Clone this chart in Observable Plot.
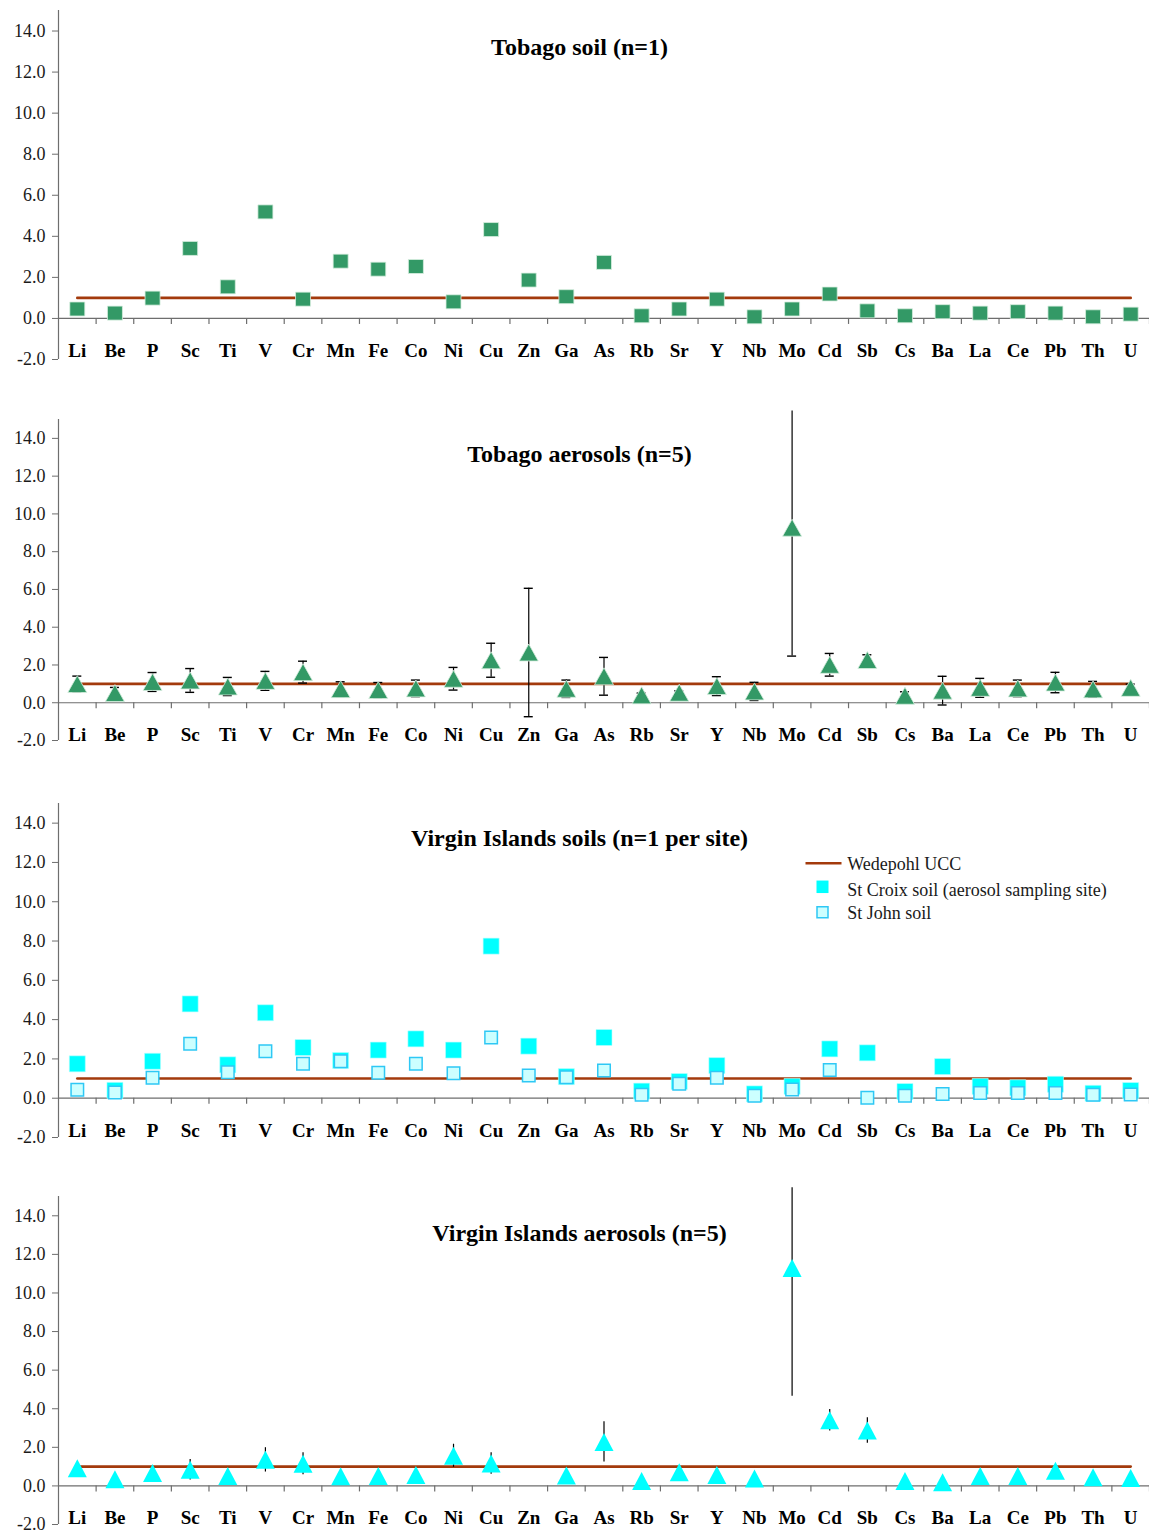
<!DOCTYPE html>
<html><head><meta charset="utf-8">
<script src="https://cdn.jsdelivr.net/npm/d3@7"></script>
<script src="https://cdn.jsdelivr.net/npm/@observablehq/plot@0.6"></script>
<style>
html,body{margin:0;padding:0;background:#fff;overflow:hidden;}
#wrap{position:relative;width:1149px;height:1531px;}
.panel{position:absolute;left:0;}
</style></head><body><div id="wrap"></div>
<script>
// ---------- data ----------
const elements = ["Li","Be","P","Sc","Ti","V","Cr","Mn","Fe","Co","Ni","Cu","Zn","Ga","As","Rb","Sr","Y","Nb","Mo","Cd","Sb","Cs","Ba","La","Ce","Pb","Th","U"];
const yTicks = [-2, 0, 2, 4, 6, 8, 10, 12, 14];
const uccLevel = 1; // Wedepohl UCC normalised value
const titles = ["Tobago soil (n=1)", "Tobago aerosols (n=5)", "Virgin Islands soils (n=1 per site)", "Virgin Islands aerosols (n=5)"];
const legendLabels = ["Wedepohl UCC", "St Croix soil (aerosol sampling site)", "St John soil"];

const tobagoSoil = [0.46,0.26,0.99,3.41,1.54,5.19,0.94,2.79,2.40,2.53,0.81,4.33,1.87,1.06,2.73,0.13,0.46,0.94,0.08,0.46,1.19,0.37,0.13,0.33,0.26,0.33,0.26,0.08,0.21];

const tobagoAerosolMean = [0.99,0.51,1.10,1.18,0.86,1.16,1.62,0.72,0.67,0.76,1.27,2.25,2.66,0.74,1.40,0.39,0.53,0.88,0.60,9.27,2.01,2.26,0.37,0.64,0.79,0.76,1.07,0.71,0.79];
const tobagoAerosolErr  = [0.42,0.30,0.50,0.63,0.48,0.50,0.58,0.39,0.40,0.44,0.60,0.90,3.40,0.46,1.00,0.12,0.10,0.50,0.48,6.80,0.60,0.28,0.21,0.76,0.50,0.44,0.54,0.42,0.20];

const stCroixSoil = [1.75,0.40,1.88,4.80,1.70,4.35,2.58,1.92,2.45,3.02,2.45,7.74,2.65,1.10,3.09,0.36,0.85,1.66,0.22,0.60,2.51,2.31,0.34,1.61,0.60,0.53,0.71,0.25,0.39];
const stJohnSoil  = [0.43,0.29,1.04,2.77,1.32,2.39,1.75,1.88,1.29,1.75,1.27,3.09,1.16,1.07,1.41,0.17,0.73,1.04,0.12,0.44,1.43,0.02,0.12,0.22,0.27,0.27,0.27,0.17,0.19];

const viAerosolMean = [0.92,0.35,0.67,0.84,0.52,1.35,1.15,0.50,0.52,0.57,1.56,1.16,null,0.54,2.28,0.26,0.71,0.57,0.38,11.30,3.40,2.87,0.26,0.19,0.52,0.52,0.78,0.45,0.41];
const viAerosolErr  = [0.25,0.15,0.20,0.53,0.20,0.63,0.57,0.15,0.15,0.20,0.60,0.56,null,0.20,1.04,0.10,0.20,0.20,0.15,6.65,0.56,0.66,0.10,0.10,0.20,0.20,0.25,0.20,0.20];

// ---------- styling ----------
const W = 1149, ML = 58, MR = 0;
const yMin = -2, yMax = 15, errClip = 15.45;
const bw = (W - ML - MR) / elements.length;
const titleCenterX = 579;
const FONT = "'Liberation Serif','Times New Roman',serif";
const GREEN = "#339966", CYAN = "#00ffff", PALE = "#ccffff", PALE_EDGE = "#2ec8f5", UCC = "#a33a0c", AXIS = "#6e6e6e";

const rectSym = (w, h) => ({draw(ctx){ ctx.rect(-w/2, -h/2, w, h); }});
const triSym  = (w, h) => ({draw(ctx){ ctx.moveTo(0, -h/2); ctx.lineTo(w/2, h/2); ctx.lineTo(-w/2, h/2); ctx.closePath(); }});
const lineSym = (w) => ({draw(ctx){ ctx.moveTo(-w/2, 0); ctx.lineTo(w/2, 0); }});

const rows = (vals) => elements.map((el, i) => ({el, v: vals[i]})).filter(d => d.v != null);
const errRows = (m, e) => elements.map((el, i) => ({el, mean: m[i], err: e[i]})).filter(d => d.mean != null);

function baseMarks(p) {
  return [
    // y axis line
    Plot.ruleX([elements[0]], {x: d => d, y1: yMin, y2: yMax, dx: -bw/2, stroke: AXIS, strokeWidth: 1.2}),
    Plot.axisY({ticks: yTicks, label: null, tickSize: 6, tickPadding: 7, tickFormat: d => d.toFixed(1), fontSize: 18, stroke: AXIS, fill: "#1a1a1a"}),
    // x axis at zero with category ticks
    Plot.ruleY([0], {stroke: AXIS, strokeWidth: 1.2}),
    Plot.ruleX(elements, {x: d => d, y1: 0, y2: 0, dx: bw/2, insetBottom: -6, stroke: AXIS, strokeWidth: 1.2}),
    Plot.text(elements, {x: d => d, text: d => d, frameAnchor: "bottom", lineAnchor: "bottom", dy: p.labelDy, fontSize: 19, fontWeight: "bold", fill: "#000"}),
    // title
    Plot.text([p.title], {frameAnchor: "top", lineAnchor: "bottom", dx: titleCenterX - (ML + (W - ML - MR) / 2), dy: p.titleDy, fontSize: 24, fontWeight: "bold", fill: "#000"}),
    // UCC reference line
    Plot.line(elements, {x: d => d, y: () => uccLevel, stroke: UCC, strokeWidth: 2.6})
  ];
}

function errorMarks(data, capW) {
  const marks = [
    Plot.ruleX(data, {x: "el", y1: d => d.mean - d.err, y2: d => Math.min(d.mean + d.err, errClip), stroke: "#000", strokeWidth: 1.2})
  ];
  if (capW) {
    const ci = (bw - capW) / 2;
    marks.push(Plot.tickY(data.filter(d => d.mean + d.err <= yMax), {x: "el", y: d => d.mean + d.err, insetLeft: ci, insetRight: ci, stroke: "#000", strokeWidth: 1.4}));
    marks.push(Plot.tickY(data, {x: "el", y: d => d.mean - d.err, insetLeft: ci, insetRight: ci, stroke: "#000", strokeWidth: 1.4}));
  }
  return marks;
}

function makePanel(p) {
  const chart = Plot.plot({
    width: W, height: p.mt + p.ph + p.mb,
    marginLeft: ML, marginRight: MR, marginTop: p.mt, marginBottom: p.mb,
    x: {type: "band", domain: elements, padding: 0, round: false, axis: null},
    y: {domain: [yMin, yMax], axis: null},
    style: {fontFamily: FONT, fontSize: "18px", color: "#1a1a1a", background: "transparent", overflow: "visible"},
    marks: [...baseMarks(p), ...p.marks]
  });
  const div = document.createElement("div");
  div.className = "panel";
  div.style.top = p.top + "px";
  div.appendChild(chart);
  document.getElementById("wrap").appendChild(div);
}

// Panel 1: Tobago soil
makePanel({top: 0, mt: 10, ph: 349, mb: 12, title: titles[0], titleDy: 44, labelDy: -3, marks: [
  Plot.dot(rows(tobagoSoil), {x: "el", y: "v", symbol: rectSym(15, 14), r: 5, fill: GREEN, stroke: "#d8efe0", strokeWidth: 0.8})
]});

// Panel 2: Tobago aerosols
const tobAer = errRows(tobagoAerosolMean, tobagoAerosolErr);
makePanel({top: 390, mt: 29, ph: 321, mb: 10, title: titles[1], titleDy: 42.7, labelDy: 0, marks: [
  ...errorMarks(tobAer, 9),
  Plot.dot(tobAer, {x: "el", y: "mean", symbol: triSym(19, 17), r: 5, fill: GREEN, stroke: "#d8efe0", strokeWidth: 0.8})
]});

// Panel 3: Virgin Islands soils (with legend)
const legendTextDy = [66.3, 92, 115.3];
makePanel({top: 780, mt: 23, ph: 334, mb: 8, title: titles[2], titleDy: 42, labelDy: -1, marks: [
  Plot.dot(rows(stCroixSoil), {x: "el", y: "v", symbol: rectSym(16, 16), r: 5, fill: CYAN, stroke: "#b8ffff", strokeWidth: 0.6}),
  Plot.dot(rows(stJohnSoil), {x: "el", y: "v", symbol: rectSym(12.5, 12.5), r: 5, fill: PALE, stroke: PALE_EDGE, strokeWidth: 1.5}),
  Plot.dot([legendLabels[0]], {frameAnchor: "top-left", dx: 765, dy: 59.7, symbol: lineSym(36), r: 5, fill: "none", stroke: UCC, strokeWidth: 2.6}),
  Plot.dot([legendLabels[1]], {frameAnchor: "top-left", dx: 764, dy: 83.3, symbol: rectSym(12, 12.5), r: 5, fill: CYAN}),
  Plot.dot([legendLabels[2]], {frameAnchor: "top-left", dx: 764, dy: 108.7, symbol: rectSym(11, 11), r: 5, fill: PALE, stroke: PALE_EDGE, strokeWidth: 1.5}),
  ...legendLabels.map((t, i) => Plot.text([t], {frameAnchor: "top-left", textAnchor: "start", lineAnchor: "bottom", dx: 788.7, dy: legendTextDy[i], fontSize: 18, fill: "#1a1a1a"}))
]});

// Panel 4: Virgin Islands aerosols
const viAer = errRows(viAerosolMean, viAerosolErr);
makePanel({top: 1170, mt: 26, ph: 328, mb: 7, title: titles[3], titleDy: 44.7, labelDy: -1, marks: [
  ...errorMarks(viAer, 0),
  Plot.dot(viAer, {x: "el", y: "mean", symbol: triSym(19, 18), r: 5, fill: CYAN})
]});
</script></body></html>
